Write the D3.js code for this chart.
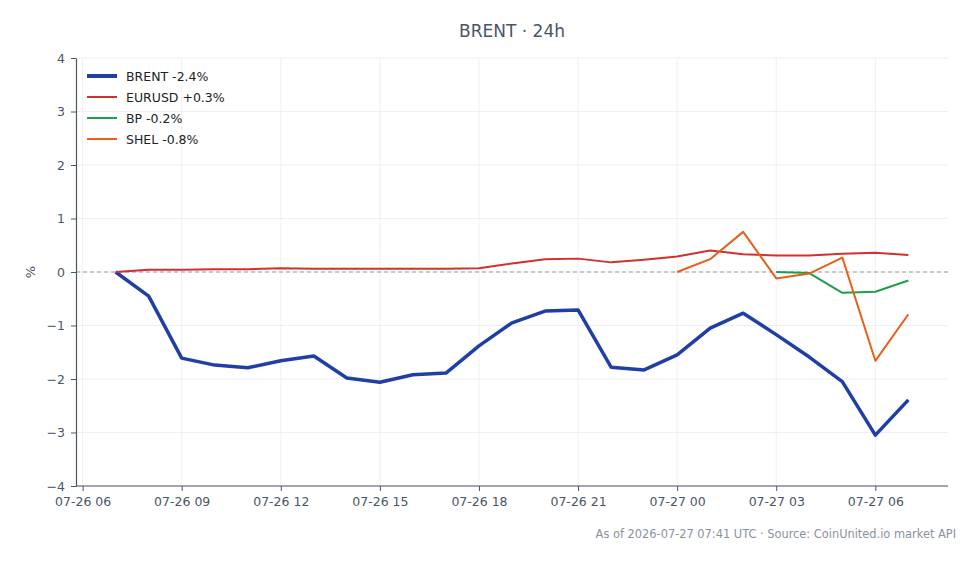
<!DOCTYPE html>
<html>
<head>
<meta charset="utf-8">
<script src="https://cdn.jsdelivr.net/npm/d3@7"></script>
<style>
  body { margin: 0; background: #fff; }
  svg { font-family: "DejaVu Sans", sans-serif; }
</style>
</head>
<body>
<script>
const w = 980, h = 564;
const margin = { top: 58, right: 32, bottom: 78, left: 76 };

// hourly timestamps, 07-26 07:00 .. 07-27 07:00 UTC
const hours = d3.range(25).map(i => new Date(Date.UTC(2026, 6, 26, 7 + i)));

const brent = [0, -0.45, -1.61, -1.74, -1.79, -1.66, -1.57, -1.98, -2.06, -1.92, -1.89, -1.38, -0.95,
  -0.73, -0.71, -1.78, -1.83, -1.55, -1.05, -0.77, -1.17, -1.59, -2.05, -3.05, -2.39];
const eurusd = [0, 0.04, 0.04, 0.05, 0.05, 0.07, 0.06, 0.06, 0.06, 0.06, 0.06, 0.07, 0.16,
  0.24, 0.25, 0.18, 0.23, 0.29, 0.40, 0.33, 0.31, 0.31, 0.34, 0.36, 0.32];
// BP and SHEL only quote during part of the window
const bp = [null, null, null, null, null, null, null, null, null, null, null, null, null,
  null, null, null, null, null, null, null, 0, -0.02, -0.39, -0.37, -0.16];
const shel = [null, null, null, null, null, null, null, null, null, null, null, null, null,
  null, null, null, null, 0, 0.24, 0.75, -0.12, -0.03, 0.27, -1.66, -0.79];

const series = [
  { name: "BRENT -2.4%", values: brent, color: "#1f3fa6", width: 3.5 },
  { name: "EURUSD +0.3%", values: eurusd, color: "#d32f2f", width: 2 },
  { name: "BP -0.2%", values: bp, color: "#1f9e4a", width: 2 },
  { name: "SHEL -0.8%", values: shel, color: "#e4601b", width: 2 }
];

const yTicks = [-4, -3, -2, -1, 0, 1, 2, 3, 4];
const xTicks = d3.range(9).map(i => new Date(Date.UTC(2026, 6, 26, 6 + 3 * i)));

const svg = d3.select("body").append("svg").attr("width", w).attr("height", h);

// 5% padding either side of the data, like matplotlib
const t0 = hours[0], t1 = hours[hours.length - 1];
const pad = (t1 - t0) * 0.05;
const x = d3.scaleUtc()
  .domain([new Date(+t0 - pad), new Date(+t1 + pad)])
  .range([margin.left, w - margin.right]);
const y = d3.scaleLinear().domain([-4, 4]).range([h - margin.bottom, margin.top]);

const fmt = d3.utcFormat("%m-%d %H");
const axisColor = "#4a5568";

// grid
svg.append("g").selectAll("line").data(yTicks).enter().append("line")
  .attr("x1", margin.left).attr("x2", w - margin.right)
  .attr("y1", d => y(d)).attr("y2", d => y(d))
  .attr("stroke", "#e8ebf0").attr("stroke-width", 0.8);
svg.append("g").selectAll("line").data(xTicks).enter().append("line")
  .attr("x1", d => x(d)).attr("x2", d => x(d))
  .attr("y1", margin.top).attr("y2", h - margin.bottom)
  .attr("stroke", "#e8ebf0").attr("stroke-width", 0.8);

// zero line
svg.append("line")
  .attr("x1", margin.left).attr("x2", w - margin.right)
  .attr("y1", y(0)).attr("y2", y(0))
  .attr("stroke", "#8f9bb0").attr("stroke-width", 1)
  .attr("stroke-dasharray", "4,3");

// axes
const xAxis = svg.append("g")
  .attr("transform", "translate(0," + (h - margin.bottom) + ")")
  .call(d3.axisBottom(x).tickValues(xTicks).tickFormat(fmt).tickSize(5).tickPadding(6).tickSizeOuter(0));
const yAxis = svg.append("g")
  .attr("transform", "translate(" + margin.left + ",0)")
  .call(d3.axisLeft(y).tickValues(yTicks).tickFormat(d => d < 0 ? "\u2212" + Math.abs(d) : d)
    .tickSize(5).tickPadding(6).tickSizeOuter(0));

[xAxis, yAxis].forEach(a => {
  a.select(".domain").attr("stroke", axisColor).attr("stroke-width", 1.2);
  a.selectAll(".tick line").attr("stroke", axisColor);
  a.selectAll(".tick text").attr("fill", axisColor).style("font-size", "12.5px")
    .style("font-family", "DejaVu Sans, sans-serif");
});
xAxis.selectAll(".domain").attr("d", "M" + margin.left + ",0H" + (w - margin.right));

// lines
const line = d3.line()
  .defined(d => d.v !== null)
  .x(d => x(d.t))
  .y(d => y(d.v));

series.forEach(s => {
  svg.append("path")
    .datum(s.values.map((v, i) => ({ t: hours[i], v: v })))
    .attr("fill", "none")
    .attr("stroke", s.color)
    .attr("stroke-width", s.width)
    .attr("stroke-linejoin", "round")
    .attr("d", line);
});

// legend
const legend = svg.append("g").attr("transform", "translate(87,76)");
series.forEach((s, i) => {
  const g = legend.append("g").attr("transform", "translate(0," + i * 21 + ")");
  g.append("line").attr("x1", 0).attr("x2", 30).attr("y1", 0).attr("y2", 0)
    .attr("stroke", s.color).attr("stroke-width", s.width === 2 ? 2 : 4);
  g.append("text").attr("x", 39).attr("y", 4.5).text(s.name)
    .attr("fill", "#222").style("font-size", "12.5px");
});

// title
svg.append("text").attr("x", 512).attr("y", 37).attr("text-anchor", "middle")
  .attr("fill", axisColor).style("font-size", "17px").text("BRENT \u00b7 24h");

// y label
svg.append("text").attr("transform", "translate(35," + y(0) + ") rotate(-90)")
  .attr("text-anchor", "middle").attr("fill", axisColor).style("font-size", "13px").text("%");

// footer
svg.append("text").attr("x", 956).attr("y", 538).attr("text-anchor", "end")
  .attr("fill", "#8a929e").style("font-size", "11.4px")
  .text("As of 2026-07-27 07:41 UTC \u00b7 Source: CoinUnited.io market API");
</script>
</body>
</html>
